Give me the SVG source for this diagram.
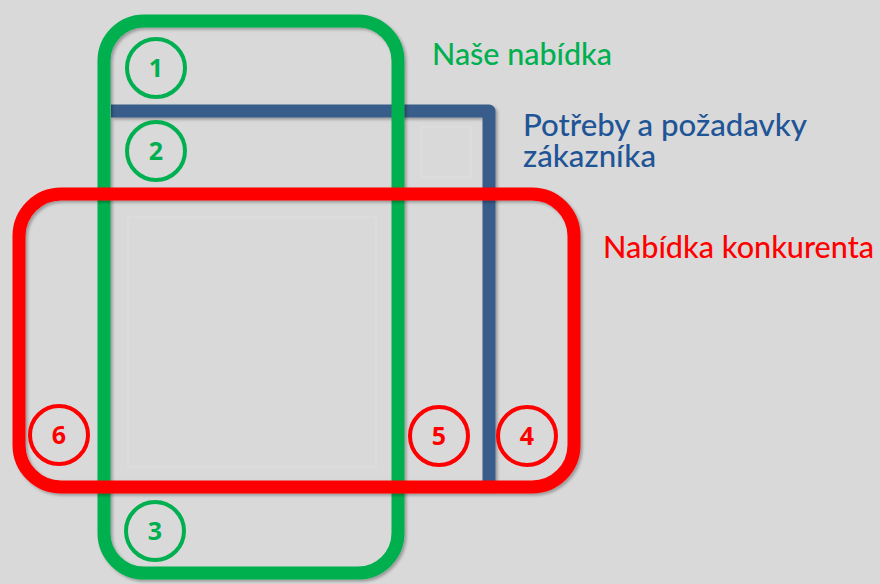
<svg xmlns="http://www.w3.org/2000/svg" width="880" height="584" viewBox="0 0 880 584">
  <defs>
    <filter id="shade" x="-5%" y="-5%" width="110%" height="110%">
      <feDropShadow dx="2" dy="2" stdDeviation="1.5" flood-color="#000" flood-opacity="0.3"/>
    </filter>
    <style>
      .frame { fill: none; stroke-width: 13; filter: url(#shade); }
      .green { stroke: #00b050; }
      .blue { stroke: #385d8a; stroke-linejoin: round; }
      .red { stroke: #ff0000; }
      .badge circle { fill: none; stroke-width: 4; }
      .badge text { font-family: "Open Sans", "Noto Sans", sans-serif; font-weight: 700; font-size: 25px; text-anchor: middle; }
      .badge.g circle { stroke: #00b050; }
      .badge.g text { fill: #00b050; }
      .badge.r circle { stroke: #ff0000; }
      .badge.r text { fill: #ff0000; }
      .label { font-family: Lato, "Noto Sans", sans-serif; font-weight: 500; font-size: 30px; }
      .ghost { fill: none; stroke: #dcdcdc; stroke-width: 2; }
    </style>
  </defs>

  <rect width="880" height="584" fill="#d9d9d9"/>

  <!-- faint placeholder squares -->
  <rect class="ghost" x="128" y="217" width="248" height="250"/>
  <rect class="ghost" x="421" y="127" width="50" height="50"/>

  <g id="connectors">
    <!-- customer needs: open bracket -->
    <g id="needs">
      <path class="frame blue" d="M111 111 H489 V490"/>
    </g>
    <!-- our offer -->
    <g id="our-offer">
      <rect class="frame green" x="104" y="21" width="294" height="552" rx="40"/>
    </g>
    <!-- competitor offer -->
    <g id="competitor-offer">
      <rect class="frame red" x="19" y="194" width="555" height="293" rx="42"/>
    </g>
  </g>

  <g id="region-1" class="badge g"><circle cx="156" cy="68" r="29"/><text x="156" y="77">1</text></g>
  <g id="region-2" class="badge g"><circle cx="156" cy="151" r="29"/><text x="156" y="160">2</text></g>
  <g id="region-3" class="badge g"><circle cx="155" cy="531" r="29"/><text x="155" y="540">3</text></g>
  <g id="region-4" class="badge r"><circle cx="527" cy="436" r="29"/><text x="527" y="445">4</text></g>
  <g id="region-5" class="badge r"><circle cx="439" cy="436" r="29"/><text x="439" y="445">5</text></g>
  <g id="region-6" class="badge r"><circle cx="59" cy="435" r="29"/><text x="59" y="444">6</text></g>

  <g id="legend">
    <text class="label" x="432" y="65" fill="#00b050" textLength="180" lengthAdjust="spacingAndGlyphs">Naše nabídka</text>
    <text class="label" x="523" y="136" fill="#1f5597" textLength="284" lengthAdjust="spacingAndGlyphs">Potřeby a požadavky</text>
    <text class="label" x="523" y="167" fill="#1f5597" textLength="133" lengthAdjust="spacingAndGlyphs">zákazníka</text>
    <text class="label" x="603" y="258" fill="#ff0000" textLength="271" lengthAdjust="spacingAndGlyphs">Nabídka konkurenta</text>
  </g>
</svg>
